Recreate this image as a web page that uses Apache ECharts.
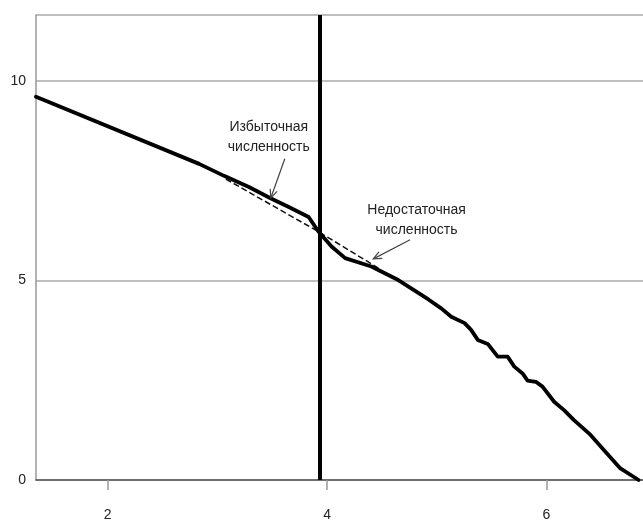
<!DOCTYPE html>
<html>
<head>
<meta charset="utf-8">
<script src="https://cdn.jsdelivr.net/npm/echarts@6/dist/echarts.min.js"></script>
<style>
html,body{margin:0;padding:0;background:#fff;}
#c{width:643px;height:522px;}
</style>
</head>
<body>
<div id="c"></div>
<script>
// Main curve (x, y)
const curveX = [1.347, 2.834, 3.061, 3.288, 3.485, 3.651, 3.832, 3.923, 4.041, 4.165, 4.404, 4.649, 4.921, 5.041, 5.132, 5.254, 5.313, 5.374, 5.465, 5.556, 5.646, 5.707, 5.782, 5.828, 5.903, 5.964, 6.070, 6.160, 6.251, 6.402, 6.523, 6.674, 6.840];
const curveY = [9.60, 7.92, 7.62, 7.34, 7.06, 6.84, 6.59, 6.22, 5.85, 5.56, 5.35, 5.01, 4.53, 4.30, 4.09, 3.93, 3.76, 3.51, 3.41, 3.09, 3.09, 2.84, 2.67, 2.49, 2.46, 2.34, 1.96, 1.75, 1.50, 1.13, 0.75, 0.29, 0.00];
// Dashed reference chord
const chordX = [3.077, 3.923, 4.467];
const chordY = [7.54, 6.22, 5.31];
// Vertical threshold line
const thresholdX = 3.93;
// Tick labels
const xTicks = [2, 4, 6];
const yTicks = [0, 5, 10];
// Annotations: text and arrows (data coordinates)
const noteTexts = ['Избыточная\nчисленность', 'Недостаточная\nчисленность'];
const noteX = [3.469, 4.816];
const noteY = [8.58, 6.50];
const arrowFromX = [3.615, 4.757];
const arrowFromY = [8.05, 6.02];
const arrowToX = [3.488, 4.422];
const arrowToY = [7.07, 5.54];

const curve = curveX.map((x, i) => [x, curveY[i]]);
const chord = chordX.map((x, i) => [x, chordY[i]]);
const notes = noteX.map((x, i) => [x, noteY[i], noteTexts[i]]);
const arrows = arrowFromX.map((x, i) => [x, arrowFromY[i], arrowToX[i], arrowToY[i]]);

const chart = echarts.init(document.getElementById('c'), null, {renderer: 'canvas'});
chart.setOption({
  animation: false,
  backgroundColor: '#fff',
  grid: {left: 36, right: -3, top: 15, bottom: 42, containLabel: false},
  xAxis: {
    type: 'value', min: 1.347, max: 6.88,
    axisLine: {show: true, onZero: false, lineStyle: {color: '#555', width: 1.5}},
    axisTick: {show: true, customValues: xTicks, length: 10, lineStyle: {color: '#999', width: 1.5}},
    axisLabel: {customValues: xTicks, margin: 28, fontSize: 14, color: '#222', fontFamily: 'Liberation Sans, Arial, sans-serif'},
    splitLine: {show: false}
  },
  yAxis: {
    type: 'value', min: 0, max: 11.65, interval: 5,
    axisLine: {show: true, lineStyle: {color: '#999', width: 1.5}},
    axisTick: {show: false},
    axisLabel: {showMaxLabel: false, margin: 10, fontSize: 14, color: '#222', fontFamily: 'Liberation Sans, Arial, sans-serif',
      formatter: v => (yTicks.indexOf(v) >= 0 ? String(v) : '')},
    splitLine: {show: true, lineStyle: {color: '#aaa', width: 1.5}}
  },
  series: [
    {
      type: 'line', data: chord, symbol: 'none', z: 3,
      lineStyle: {color: '#111', width: 1.5, type: [6, 3]}
    },
    {
      type: 'line', data: curve, symbol: 'none', z: 4,
      lineStyle: {color: '#000', width: 3.8, join: 'round', cap: 'round'},
      markLine: {
        silent: true, symbol: ['none', 'none'], label: {show: false},
        lineStyle: {color: '#000', width: 4, type: 'solid'},
        data: [{xAxis: thresholdX}]
      }
    },
    {
      type: 'custom', data: arrows, z: 5,
      renderItem: function (params, api) {
        const a = api.coord([api.value(0), api.value(1)]);
        const b = api.coord([api.value(2), api.value(3)]);
        const ang = Math.atan2(b[1] - a[1], b[0] - a[0]);
        const L = 9, sp = 0.42;
        const h1 = [b[0] - L * Math.cos(ang - sp), b[1] - L * Math.sin(ang - sp)];
        const h2 = [b[0] - L * Math.cos(ang + sp), b[1] - L * Math.sin(ang + sp)];
        const st = {stroke: '#444', lineWidth: 1.2, fill: null};
        return {type: 'group', children: [
          {type: 'line', shape: {x1: a[0], y1: a[1], x2: b[0], y2: b[1]}, style: st},
          {type: 'polyline', shape: {points: [h1, b, h2]}, style: st}
        ]};
      }
    },
    {
      type: 'custom', data: notes, z: 6,
      renderItem: function (params, api) {
        const p = api.coord([api.value(0), api.value(1)]);
        return {type: 'text', x: p[0], y: p[1], style: {
          text: noteTexts[params.dataIndex], fill: '#222', fontSize: 14, lineHeight: 20,
          fontFamily: 'Liberation Sans, Arial, sans-serif', align: 'center', verticalAlign: 'middle'
        }};
      }
    }
  ]
});
</script>
</body>
</html>
